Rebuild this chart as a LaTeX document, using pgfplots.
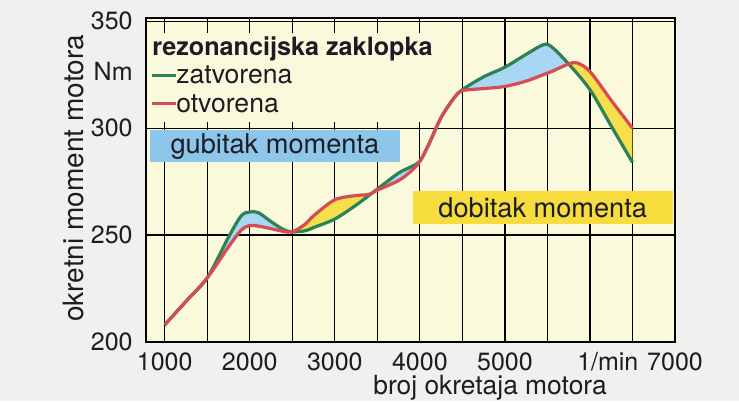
\documentclass[border=0pt]{standalone}
\usepackage{fontspec}
\setmainfont{TeX Gyre Heros}
\usepackage{pgfplots}
\usepackage{pgfplotstable}
\pgfplotsset{compat=1.18}
\usepgfplotslibrary{fillbetween}

\definecolor{pagebg}{HTML}{F0F0EE}
\definecolor{plotbg}{HTML}{FBF9DC}
\definecolor{grn}{HTML}{2B8255}
\definecolor{rd}{HTML}{D64C55}
\definecolor{lossfill}{HTML}{A9D6F2}
\definecolor{gainfill}{HTML}{F7DF4C}
\definecolor{lossbox}{HTML}{8EC6EA}
\definecolor{gainbox}{HTML}{F7DC3E}
\definecolor{txt}{HTML}{1C1C24}

% rezonancijska zaklopka zatvorena
\pgfplotstableread{
rpm  Nm
1000 208
1250 219
1500 230
1750 249
1900 259
2000 260.8
2100 260.5
2250 256.3
2400 252.5
2500 251.5
2650 252
2750 253.5
3000 257.5
3250 264
3400 268.5
3500 271.5
3750 279
3900 282
4000 284.5
4100 292
4250 305
4400 314
4500 318
4750 324
5000 328.5
5250 334.5
5450 339
5550 338
5750 330
6000 318
6250 301
6500 284
}\zatvorena

% rezonancijska zaklopka otvorena
\pgfplotstableread{
rpm  Nm
1000 208
1250 219
1500 230
1750 244.5
1900 252.3
2000 254.5
2100 254.2
2250 253
2400 251.7
2500 251.5
2650 255
2750 259
3000 266.5
3250 268.5
3400 269
3500 271
3750 275.5
3900 280
4000 284.5
4100 292
4250 305
4400 314
4500 317.5
4750 318.5
5000 319.5
5250 322
5450 325
5550 326.5
5750 330
5850 330.5
6000 326.5
6250 313
6500 300
}\otvorena

\begin{document}
\begin{tikzpicture}
\begin{axis}[
    scale only axis,
    width=264.5pt, height=162pt,
    xmin=780, xmax=7000,
    ymin=200, ymax=351.5,
    axis line style={line width=1.3pt},
    xtick={1000,2000,3000,4000,5000,6000,7000},
    xticklabels={1000,2000,3000,4000,5000,,7000},
    minor xtick={1500,2500,3500,4500,5500,6500},
    ytick={200,250,300,350},
    extra x ticks={6210},
    extra x tick labels={1/min},
    extra x tick style={grid=none},
    extra y ticks={326.5},
    extra y tick labels={Nm},
    extra y tick style={grid=none},
    grid=both,
    major grid style={black, line width=0.6pt},
    minor grid style={black, line width=0.6pt},
    major tick length=0pt, minor tick length=0pt,
    tick label style={font=\fontsize{12.5}{14}\selectfont, text=txt, inner sep=0pt},
    xticklabel style={anchor=base, yshift=-14pt},
    yticklabel style={anchor=east, xshift=-6.5pt},
    /pgf/number format/assume math mode=true,
    /pgf/number format/1000 sep={},
    clip=false,
]
% page and plot backgrounds
\begin{pgfonlayer}{axis background}
\fill[pagebg] (rel axis cs:-0.276,-0.1821) rectangle (rel axis cs:1.121,1.0556);
\fill[plotbg] (rel axis cs:0,0) rectangle (rel axis cs:1,1);
\end{pgfonlayer}
% legend area hides the grid
\fill[plotbg] (axis cs:800,344.4) rectangle (axis cs:4250,302.8);

\addplot[name path=G, draw=none, smooth] table {\zatvorena};
\addplot[name path=R, draw=none, smooth] table {\otvorena};
\addplot[fill=lossfill, draw=none] fill between[of=G and R, soft clip={domain=1550:2500}];
\addplot[fill=gainfill, draw=none] fill between[of=G and R, soft clip={domain=2500:3420}];
\addplot[fill=lossfill, draw=none] fill between[of=G and R, soft clip={domain=3420:5730}];
\addplot[fill=gainfill, draw=none] fill between[of=G and R, soft clip={domain=5730:6500}];

\addplot[grn, line width=1.6pt, smooth] table {\zatvorena};
\addplot[rd, line width=1.6pt, smooth] table {\otvorena};

% legend
\node[anchor=base west, inner sep=0pt, text=txt, font=\fontsize{12.6}{14}\selectfont\bfseries]
  at (axis cs:850,334.1) {rezonancijska zaklopka};
\node[anchor=base west, inner sep=0pt, text=txt, font=\fontsize{13.3}{15}\selectfont]
  at (axis cs:850,321) {\textcolor{grn}{\rule[0.25em]{0.9em}{1.5pt}}zatvorena};
\node[anchor=base west, inner sep=0pt, text=txt, font=\fontsize{13.3}{15}\selectfont]
  at (axis cs:850,307.5) {\textcolor{rd}{\rule[0.25em]{0.9em}{1.5pt}}otvorena};

% labelled boxes
\node[fill=lossbox, text=txt, inner sep=0pt, minimum width=125pt, minimum height=16pt,
  font=\fontsize{13.6}{15}\selectfont] at (axis cs:2296,291.6) {gubitak momenta};
\node[fill=gainbox, text=txt, inner sep=0pt, minimum width=130pt, minimum height=16.5pt,
  font=\fontsize{13.6}{15}\selectfont] at (axis cs:5445,262.9) {dobitak momenta};

% axis titles
\node[rotate=90, anchor=base, inner sep=0pt, text=txt, font=\fontsize{14}{16}\selectfont]
  at (rel axis cs:-0.119,0.505) {okretni moment motora};
\node[anchor=base west, inner sep=0pt, text=txt, font=\fontsize{13.2}{15}\selectfont]
  at (rel axis cs:0.429,-0.1625) {broj okretaja motora};
\end{axis}
\end{tikzpicture}
\end{document}
